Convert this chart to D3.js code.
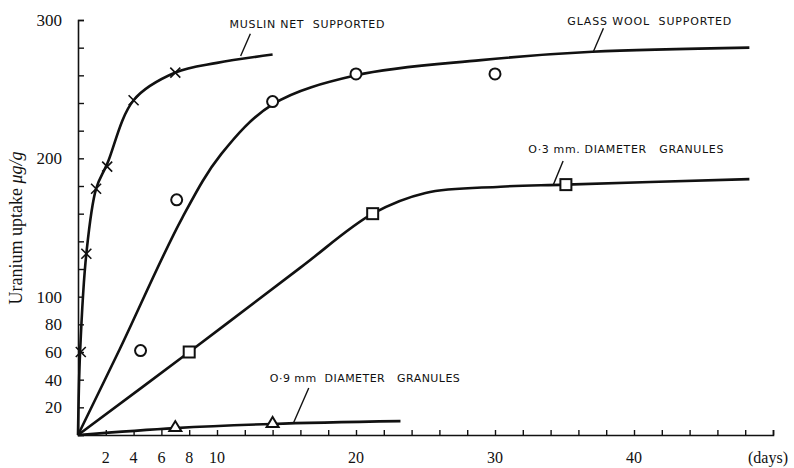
<!DOCTYPE html>
<html lang="en">
<head>
    <meta charset="UTF-8">
    <title>uranium uptake</title>
    <script src="https://cdn.jsdelivr.net/npm/d3@7/dist/d3.min.js"></script>
    <style>
        body { margin: 0; background: #fff; }
        text { fill: #111; }
        .note { font-family: "DejaVu Sans", sans-serif; font-size: 11px; white-space: pre; }
    </style>
</head>
<body>
<svg width="794" height="468" id="main"></svg>
<script>

    // measured points (days, ug/g)
    let muslinPts = [[0.2, 60], [0.6, 131], [1.3, 178], [2.1, 194], [4, 242], [7, 262]];
    let glassPts = [[4.5, 61], [7.1, 170], [14, 241], [20, 261], [30, 261]];
    let gran03Pts = [[8, 60], [21.2, 160], [35.1, 181]];
    let gran09Pts = [[7, 5], [14, 8]];

    // drawn curves
    let muslinCurve = [[0, 0], [0.15, 60], [0.6, 131], [1.3, 178], [2.1, 196], [4, 242], [7, 262], [10, 269], [14, 275]];
    let glassCurve = [[0, 0], [3, 62], [7.5, 157], [10.3, 203], [14, 239], [20, 260], [29, 271], [37, 277], [48.3, 280]];
    let gran03Curve = [[0, 0], [8, 60], [16, 121], [21.2, 160], [25, 175], [30.4, 179.5], [35.1, 181], [48.3, 185]];
    let gran09Curve = [[0, 0], [7, 5], [14, 8], [23.2, 10]];

    let xTicks = d3.range(0, 51, 2);
    let xLabels = [2, 4, 6, 8, 10, 20, 30, 40];
    let yTicks = d3.range(0, 301, 20);
    let yLabels = [20, 40, 60, 80, 100, 200, 300];

    let notes = [
        {text: "MUSLIN NET  SUPPORTED", at: [10.9, 297], len: 155, from: [12.4, 290], to: [11.7, 274]},
        {text: "GLASS WOOL  SUPPORTED", at: [35.2, 299], len: 164, from: [37.8, 294], to: [37.05, 276.5]},
        {text: "O·3 mm. DIAMETER   GRANULES", at: [32.4, 207], len: 195, from: [34.9, 198], to: [34.2, 181]},
        {text: "O·9 mm  DIAMETER   GRANULES", at: [13.8, 41], len: 190, from: [16.6, 34], to: [15.5, 8.7]}
    ];

    draw();

    function draw() {
        let margin = ({top: 20, right: 21, bottom: 33, left: 78});
        let width = 794, height = 468;
        let ink = "#111";
        let svg = d3.select('#main');

        let x = d3.scaleLinear().domain([0, 50]).range([margin.left, width - margin.right]);
        let y = d3.scaleLinear().domain([0, 300]).range([height - margin.bottom, margin.top]);

        // x axis
        let xAxis = g => g
            .attr("transform", `translate(0,${y(0)})`)
            .call(d3.axisTop(x).tickValues(xTicks).tickSize(5).tickFormat(""))
            .call(g => g.select(".domain").attr("stroke", ink).attr("stroke-width", 1.6))
            .call(g => g.selectAll(".tick line").attr("stroke", ink).attr("stroke-width", 1.4));
        svg.append("g").call(xAxis);

        svg.append("g")
            .attr("font-family", "Liberation Serif, serif")
            .attr("font-size", 16)
            .attr("text-anchor", "middle")
            .selectAll("text")
            .data(xLabels)
            .join("text")
            .attr("x", d => x(d))
            .attr("y", 463)
            .text(d => d);
        svg.append("text")
            .attr("x", 768).attr("y", 463)
            .attr("font-family", "Liberation Serif, serif")
            .attr("font-size", 16)
            .attr("text-anchor", "middle")
            .text("(days)");

        // y axis
        let yAxis = g => g
            .attr("transform", `translate(${x(0)},0)`)
            .call(d3.axisRight(y).tickValues(yTicks).tickSize(6).tickFormat(""))
            .call(g => g.select(".domain").attr("stroke", ink).attr("stroke-width", 1.6))
            .call(g => g.selectAll(".tick line").attr("stroke", ink).attr("stroke-width", 1.4));
        svg.append("g").call(yAxis);

        svg.append("g")
            .attr("font-family", "Liberation Serif, serif")
            .attr("font-size", 17)
            .attr("text-anchor", "end")
            .selectAll("text")
            .data(yLabels)
            .join("text")
            .attr("x", 62)
            .attr("y", d => y(d) + 6)
            .text(d => d);

        let yt = svg.append("text")
            .attr("transform", `translate(22,228) rotate(-90)`)
            .attr("font-family", "Liberation Serif, serif")
            .attr("font-size", 18)
            .attr("text-anchor", "middle");
        yt.append("tspan").text("Uranium uptake ");
        yt.append("tspan").attr("font-style", "italic").text("μg/g");

        // curves
        let line = d3.line().x(d => x(d[0])).y(d => y(d[1])).curve(d3.curveCatmullRom.alpha(0.5));
        svg.append("g")
            .attr("fill", "none")
            .attr("stroke", ink)
            .attr("stroke-width", 2.6)
            .attr("stroke-linejoin", "round")
            .selectAll("path")
            .data([muslinCurve, glassCurve, gran03Curve, gran09Curve])
            .join("path")
            .attr("d", line);

        // markers
        svg.append("g")
            .attr("stroke", ink).attr("stroke-width", 1.6)
            .selectAll("path")
            .data(muslinPts)
            .join("path")
            .attr("d", d => {
                let cx = x(d[0]), cy = y(d[1]), s = 5;
                return `M${cx - s},${cy - s}L${cx + s},${cy + s}M${cx - s},${cy + s}L${cx + s},${cy - s}`;
            });
        svg.append("g")
            .attr("stroke", ink).attr("stroke-width", 2).attr("fill", "#fff")
            .selectAll("circle")
            .data(glassPts)
            .join("circle")
            .attr("cx", d => x(d[0]))
            .attr("cy", d => y(d[1]))
            .attr("r", 5.5);
        svg.append("g")
            .attr("stroke", ink).attr("stroke-width", 2).attr("fill", "#fff")
            .selectAll("rect")
            .data(gran03Pts)
            .join("rect")
            .attr("x", d => x(d[0]) - 5.5)
            .attr("y", d => y(d[1]) - 5.5)
            .attr("width", 11).attr("height", 11);
        svg.append("g")
            .attr("stroke", ink).attr("stroke-width", 2).attr("fill", "#fff")
            .selectAll("path")
            .data(gran09Pts)
            .join("path")
            .attr("d", d => {
                let cx = x(d[0]), cy = y(d[1]);
                return `M${cx - 6},${cy + 3}L${cx},${cy - 7}L${cx + 6},${cy + 3}Z`;
            });

        // labels with leaders
        let ng = svg.append("g");
        ng.selectAll("line")
            .data(notes)
            .join("line")
            .attr("x1", d => x(d.from[0])).attr("y1", d => y(d.from[1]))
            .attr("x2", d => x(d.to[0])).attr("y2", d => y(d.to[1]))
            .attr("stroke", ink).attr("stroke-width", 1.4);
        ng.selectAll("text")
            .data(notes)
            .join("text")
            .attr("class", "note")
            .attr("x", d => x(d.at[0]))
            .attr("y", d => y(d.at[1]) + 4)
            .attr("textLength", d => d.len)
            .attr("lengthAdjust", "spacing")
            .text(d => d.text);
    }
</script>
</body>
</html>
